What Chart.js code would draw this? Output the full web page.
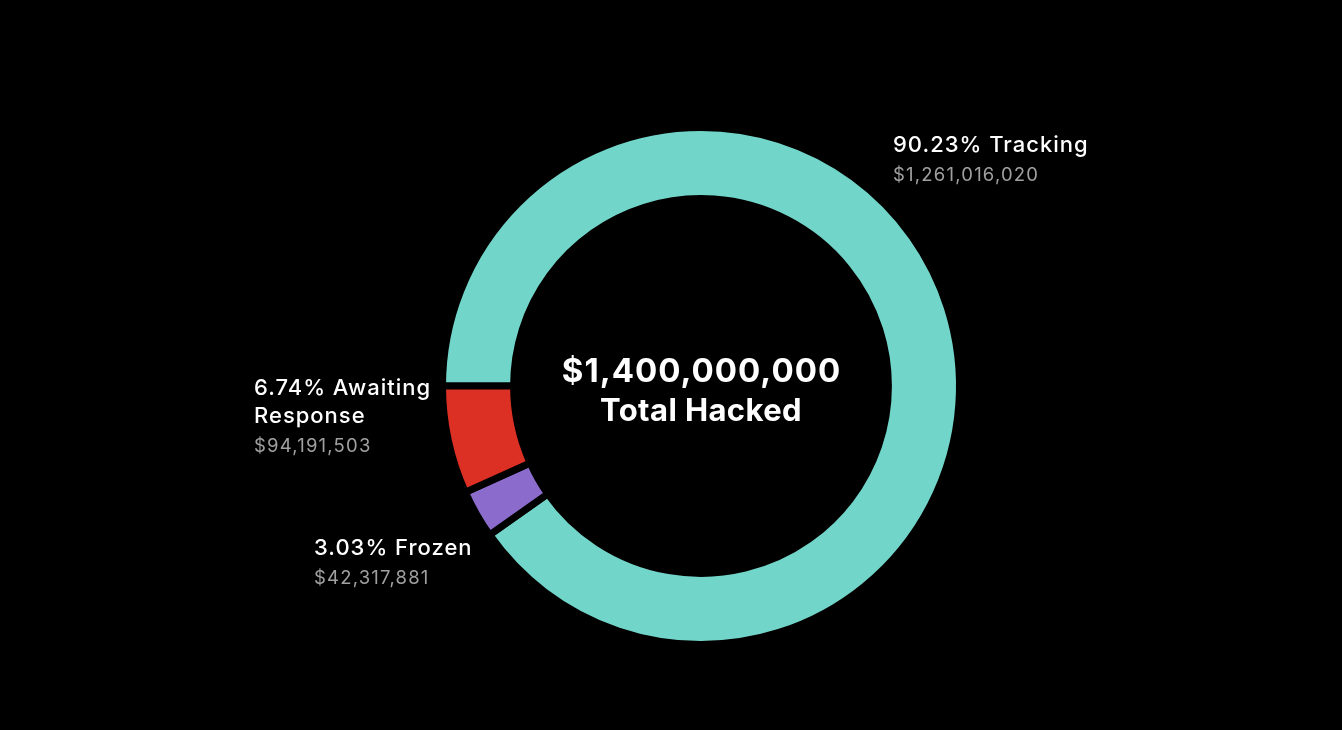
<!DOCTYPE html>
<html>
<head>
<meta charset="utf-8">
<script src="https://cdn.jsdelivr.net/npm/chart.js@4.4.1/dist/chart.umd.min.js"></script>
<style>
  html, body { margin: 0; padding: 0; background: #000; }
  #wrap { width: 1342px; height: 730px; position: relative; }
</style>
</head>
<body>
<div id="wrap"><canvas id="chart"></canvas></div>
<script>
// ── Data ──────────────────────────────────────
const categories = ['Tracking', 'Frozen', 'Awaiting Response'];
const amounts = [1261016020, 42317881, 94191503];
const percents = ['90.23', '3.03', '6.74'];
const colors = ['#72d5c9', '#8b6ccd', '#dc3025'];
const totalLabel = '$1,400,000,000';
const totalCaption = 'Total Hacked';

// label placement, offset from the ring center (px)
const labelPos = [
  { dx: 192, dy: -234, wrap: 400 },
  { dx: -387, dy: 169, wrap: 400 },
  { dx: -447, dy: 9, wrap: 200 }
];

const FONT = "Inter, 'Noto Sans', sans-serif";

const fmt = v => '$' + v.toLocaleString('en-US');

function wrapText(ctx, text, maxW) {
  const words = text.split(' ');
  const lines = [];
  let cur = '';
  words.forEach(w => {
    const test = cur ? cur + ' ' + w : w;
    if (cur && ctx.measureText(test).width > maxW) {
      lines.push(cur);
      cur = w;
    } else {
      cur = test;
    }
  });
  if (cur) lines.push(cur);
  return lines;
}

const ringLabels = {
  id: 'ringLabels',
  afterDraw(chart) {
    const { ctx } = chart;
    const meta = chart.getDatasetMeta(0);
    const arc = meta.data[0];
    const cx = arc.x, cy = arc.y;
    ctx.save();
    ctx.textBaseline = 'alphabetic';

    // center text
    ctx.textAlign = 'center';
    ctx.fillStyle = '#ffffff';
    ctx.font = 'bold 33px ' + FONT;
    ctx.letterSpacing = '1px';
    ctx.fillText(totalLabel, cx + 0.5, cy - 4);
    ctx.font = 'bold 31px ' + FONT;
    ctx.letterSpacing = '0.4px';
    ctx.fillText(totalCaption, cx, cy + 35);

    // side labels
    ctx.textAlign = 'left';
    categories.forEach((name, i) => {
      const p = labelPos[i];
      const x = cx + p.dx;
      let y = cy + p.dy;
      ctx.font = '500 22px ' + FONT;
      ctx.letterSpacing = '1px';
      ctx.fillStyle = '#ffffff';
      const lines = wrapText(ctx, percents[i] + '% ' + name, p.wrap);
      lines.forEach(l => {
        ctx.fillText(l, x, y);
        y += 28;
      });
      ctx.font = '18.5px ' + FONT;
      ctx.letterSpacing = '1.2px';
      ctx.fillStyle = '#a0a0a0';
      ctx.fillText(fmt(amounts[i]), x, y + 1);
    });
    ctx.restore();
  }
};

new Chart(document.getElementById('chart'), {
  type: 'doughnut',
  data: {
    labels: categories,
    datasets: [{
      data: amounts,
      backgroundColor: colors,
      borderColor: '#000000',
      borderWidth: 7,
      hoverOffset: 0
    }]
  },
  options: {
    responsive: true,
    maintainAspectRatio: false,
    animation: false,
    rotation: 270,
    cutout: '72.5%',
    layout: { padding: { top: 124, bottom: 82, left: 300, right: 240 } },
    plugins: {
      legend: { display: false },
      tooltip: { enabled: false }
    }
  },
  plugins: [ringLabels]
});
</script>
</body>
</html>
